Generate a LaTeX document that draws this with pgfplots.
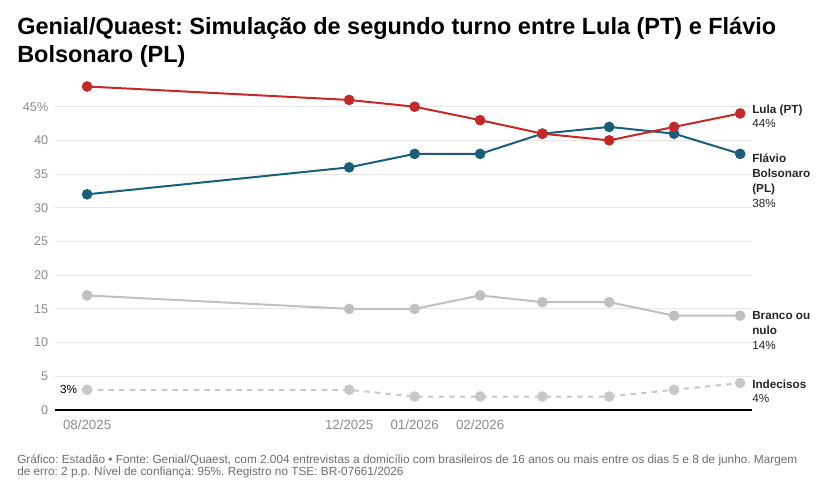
\documentclass[border=0pt]{standalone}
\usepackage{fontspec}
\setmainfont{Liberation Sans}
\usepackage{pgfplots}
\pgfplotsset{compat=1.18}
\definecolor{lula}{HTML}{C62828}
\definecolor{flavio}{HTML}{1A5F7A}
\definecolor{branco}{HTML}{C0C0C0}
\definecolor{indec}{HTML}{C8C8C8}
\definecolor{gridc}{HTML}{E6E6E6}
\definecolor{tickc}{HTML}{8C8C8C}
\definecolor{footc}{HTML}{6E6E6E}
\frenchspacing
\begin{document}
\begin{tikzpicture}
\useasboundingbox (0,0) rectangle (614.25pt,369.75pt);
\begin{axis}[
  at={(41.25pt,62.25pt)}, anchor=south west,
  scale only axis, width=522.75pt, height=247.7pt,
  xmin=-0.49, xmax=10.15, ymin=0, ymax=49,
  axis x line*=bottom, axis y line*=left,
  y axis line style={draw=none},
  x axis line style={black, line width=0.8pt, -},
  xtick={0,4,5,6}, xticklabels={08/2025,12/2025,01/2026,02/2026},
  ytick={0,5,10,15,20,25,30,35,40,45},
  yticklabels={0,5,10,15,20,25,30,35,40,45\%},
  major tick length=0pt,
  ymajorgrids, grid style={gridc, line width=0.75pt},
  xticklabel style={font=\fontsize{10}{12}\selectfont, text=tickc, yshift=-4pt},
  yticklabel style={font=\fontsize{9.5}{12}\selectfont, text=tickc, anchor=east, xshift=-1.5pt},
  every axis plot/.append style={line width=1.5pt, mark=*, mark size=3.2pt},
  clip=false,
]
\addplot[indec, dashed, dash pattern=on 4pt off 4pt, mark options={solid}] coordinates {(0,3) (4,3) (5,2) (6,2) (6.95,2) (7.97,2) (8.96,3) (9.97,4)};
\addplot[branco] coordinates {(0,17) (4,15) (5,15) (6,17) (6.95,16) (7.97,16) (8.96,14) (9.97,14)};
\addplot[flavio] coordinates {(0,32) (4,36) (5,38) (6,38) (6.95,41) (7.97,42) (8.96,41) (9.97,38)};
\addplot[lula] coordinates {(0,48) (4,46) (5,45) (6,43) (6.95,41) (7.97,40) (8.96,42) (9.97,44)};
\end{axis}
% title
\node[anchor=base west, inner sep=0pt, font=\fontsize{17.6}{20}\selectfont\bfseries] at (12.75pt,343.9pt) {Genial/Quaest: Simulação de segundo turno entre Lula (PT) e Flávio};
\node[anchor=base west, inner sep=0pt, font=\fontsize{17.6}{20}\selectfont\bfseries] at (12.75pt,322.5pt) {Bolsonaro (PL)};
% end labels
\begin{scope}[every node/.style={anchor=base west, inner sep=0pt, font=\fontsize{8.8}{10}\selectfont, text=black!85}]
\node[font=\fontsize{8.8}{10}\selectfont\bfseries] at (564pt,284.8pt) {Lula (PT)};
\node at (564pt,274.0pt) {44\%};
\node[font=\fontsize{8.8}{10}\selectfont\bfseries] at (564pt,247.7pt) {Flávio};
\node[font=\fontsize{8.8}{10}\selectfont\bfseries] at (564pt,236.5pt) {Bolsonaro};
\node[font=\fontsize{8.8}{10}\selectfont\bfseries] at (564pt,225.2pt) {(PL)};
\node at (564pt,214.0pt) {38\%};
\node[font=\fontsize{8.8}{10}\selectfont\bfseries] at (564pt,129.75pt) {Branco ou};
\node[font=\fontsize{8.8}{10}\selectfont\bfseries] at (564pt,118.5pt) {nulo};
\node at (564pt,107.25pt) {14\%};
\node[font=\fontsize{8.8}{10}\selectfont\bfseries] at (564pt,78.5pt) {Indecisos};
\node at (564pt,67.7pt) {4\%};
\node[anchor=base east, text=black] at (58pt,74.75pt) {3\%};
\end{scope}
% footer
\node[anchor=base west, inner sep=0pt, font=\fontsize{8.85}{10}\selectfont, text=footc] at (12.75pt,21.75pt) {Gráfico: Estadão • Fonte: Genial/Quaest, com 2.004 entrevistas a domicílio com brasileiros de 16 anos ou mais entre os dias 5 e 8 de junho. Margem};
\node[anchor=base west, inner sep=0pt, font=\fontsize{8.85}{10}\selectfont, text=footc] at (12.75pt,12.75pt) {de erro: 2 p.p. Nível de confiança: 95\%. Registro no TSE: BR-07661/2026};
\end{tikzpicture}
\end{document}
